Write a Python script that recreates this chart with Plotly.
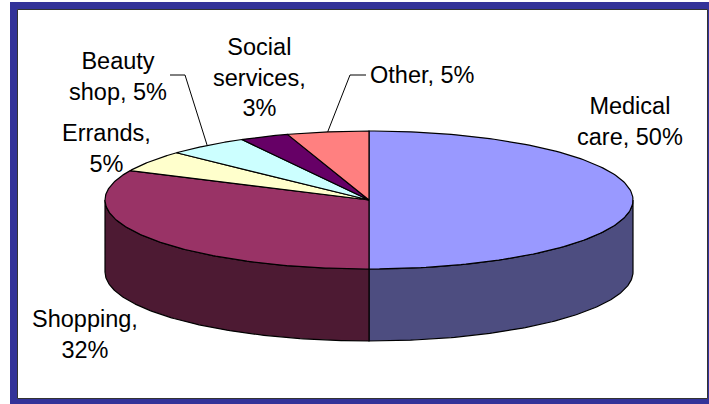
import numpy as np
import plotly.graph_objects as go

categories = ["Medical care", "Shopping", "Errands", "Beauty shop", "Social services", "Other"]
values = [50, 32, 5, 5, 3, 5]
label_text = ["Medical<br>care, {}%", "Shopping,<br>{}%", "Errands,<br>{}%", "Beauty<br>shop, {}%", "Social<br>services,<br>{}%", "Other, {}%"]

top_colors = ["#9999FF", "#993366", "#FFFFCC", "#CCFFFF", "#660066", "#FF8080"]
side_colors = ["#4D4D80", "#4D1A33", "#80806A", "#6A8080", "#330033", "#804040"]
label_pos = [(630, 121), (85, 334), (106, 148), (118, 76), (259, 77), (422, 75)]
leader_elbow = {3: [(170, 75), (185, 75)], 5: [(366, 75), (350, 75)]}

W, H = 709, 404
CX, CY, RX, RY, DEPTH = 369, 200, 264, 69, 72
FONT = dict(family="Liberation Sans", size=23.5, color="#000000")


def point(theta, dy=0.0):
    return CX + RX * np.sin(theta), CY - RY * np.cos(theta) + dy


fractions = np.cumsum([0] + values) / sum(values)
angles = 2 * np.pi * fractions
fig = go.Figure()

# Visible outer walls: only the front half of the disc (pi/2 .. 3pi/2)
for i in range(len(values)):
    a0 = max(angles[i], np.pi / 2)
    a1 = min(angles[i + 1], 3 * np.pi / 2)
    if a1 <= a0:
        continue
    t = np.linspace(a0, a1, 120)
    x_top, y_top = point(t)
    x_bot, y_bot = point(t[::-1], DEPTH)
    fig.add_trace(go.Scatter(
        x=np.r_[x_top, x_bot, x_top[0]], y=np.r_[y_top, y_bot, y_top[0]],
        mode="lines", fill="toself", fillcolor=side_colors[i],
        line=dict(color="#000000", width=1.2), hoverinfo="skip", showlegend=False))

# Top faces
for i in range(len(values)):
    t = np.linspace(angles[i], angles[i + 1], 160)
    x_arc, y_arc = point(t)
    fig.add_trace(go.Scatter(
        x=np.r_[CX, x_arc, CX], y=np.r_[CY, y_arc, CY],
        mode="lines", fill="toself", fillcolor=top_colors[i],
        line=dict(color="#000000", width=1.2), hoverinfo="skip", showlegend=False,
        name=categories[i]))

# Leader lines
for i, elbow in leader_elbow.items():
    mx, my = point((angles[i] + angles[i + 1]) / 2)
    fig.add_trace(go.Scatter(
        x=[p[0] for p in elbow] + [mx], y=[p[1] for p in elbow] + [my],
        mode="lines", line=dict(color="#000000", width=1),
        hoverinfo="skip", showlegend=False))

annotations = [
    dict(x=p[0], y=p[1], text=txt.format(v), showarrow=False, xref="x", yref="y",
         xanchor="center", yanchor="middle", align="center", font=FONT)
    for txt, v, p in zip(label_text, values, label_pos)
]

shapes = [
    dict(type="rect", x0=10, x1=W + 2, y0=2, y1=H + 2, fillcolor="#333399", line_width=0, layer="below"),
    dict(type="rect", x0=17.5, x1=707.5, y0=9.5, y1=398.5, fillcolor="#FFFFFF",
         line=dict(color="#333333", width=1), layer="below"),
]

fig.update_layout(
    width=W, height=H, margin=dict(l=0, r=0, t=0, b=0),
    paper_bgcolor="#FFFFFF", plot_bgcolor="#FFFFFF", showlegend=False,
    xaxis=dict(range=[0, W], visible=False, fixedrange=True),
    yaxis=dict(range=[H, 0], visible=False, fixedrange=True),
    annotations=annotations, shapes=shapes,
)
fig.write_html("out.html", config=dict(displayModeBar=False),
               post_script="document.body.style.margin='0';document.documentElement.style.overflow='hidden';")
